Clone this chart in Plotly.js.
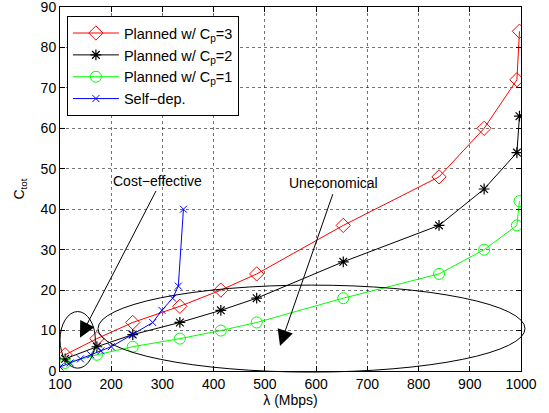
<!DOCTYPE html>
<html>
<head>
<meta charset="utf-8">
<script src="https://cdn.plot.ly/plotly-3.0.1.min.js"></script>
<style>html,body{margin:0;padding:0;background:#fff;}#chart{width:549px;height:413px;}</style>
</head>
<body>
<div id="chart"></div>
<script>
// Data
const lambdaPlanned = [110, 172, 242, 334, 414, 484, 653, 840, 928, 992, 997];
const costCp3 = [4, 8, 12, 16, 20, 24, 36, 48, 60, 72, 84];
const costCp2 = [3, 6, 9, 12, 15, 18, 27, 36, 45, 54, 63];
const costCp1 = [2, 4, 6, 8, 10, 12, 18, 24, 30, 36, 42];
const lambdaSelf = [100, 120, 140, 160, 180, 200, 241, 281, 299, 320, 331, 341];
const costSelf = [1, 2, 3, 4, 5, 6, 9, 12, 15, 18, 21, 40];
const seriesNames = ['Planned w/ C<sub>p</sub>=3', 'Planned w/ C<sub>p</sub>=2', 'Planned w/ C<sub>p</sub>=1', 'Self\u2212dep.'];
const xTicks = [100, 200, 300, 400, 500, 600, 700, 800, 900, 1000];
const yTicks = [0, 10, 20, 30, 40, 50, 60, 70, 80, 90];

const FONT = 'Liberation Sans, Arial, Helvetica, sans-serif';

const traces = [
  {x: lambdaPlanned, y: costCp3, name: seriesNames[0], mode: 'lines+markers',
   line: {color: '#ff0000', width: 1},
   marker: {symbol: 'diamond-open', size: 11, color: '#ff0000', line: {width: 1}}},
  {x: lambdaPlanned, y: costCp2, name: seriesNames[1], mode: 'lines+markers',
   line: {color: '#000000', width: 1},
   marker: {symbol: 'asterisk-open', size: 9, color: '#000000', line: {width: 1.2, color: '#000000'}}},
  {x: lambdaPlanned, y: costCp1, name: seriesNames[2], mode: 'lines+markers',
   line: {color: '#00ff00', width: 1},
   marker: {symbol: 'circle-open', size: 11, color: '#00ff00', line: {width: 1}}},
  {x: lambdaSelf, y: costSelf, name: seriesNames[3], mode: 'lines+markers',
   line: {color: '#0000ff', width: 1},
   marker: {symbol: 'x-thin-open', size: 7, color: '#0000ff', line: {width: 1, color: '#0000ff'}}}
];

const axisCommon = {
  showline: true, linecolor: '#000', linewidth: 1, mirror: 'ticks',
  ticks: 'inside', ticklen: 5, tickcolor: '#000', tickwidth: 1,
  showgrid: true, gridcolor: 'rgba(0,0,0,0.55)', griddash: 'dot', gridwidth: 1,
  zeroline: false, ticklabeloverflow: 'allow',
  tickfont: {family: FONT, size: 14, color: '#000'}
};

const layout = {
  width: 549, height: 413,
  margin: {l: 60, r: 28, t: 7, b: 42},
  paper_bgcolor: '#fff', plot_bgcolor: '#fff',
  font: {family: FONT, size: 14, color: '#000'},
  xaxis: Object.assign({}, axisCommon, {
    range: [100, 1000], tickvals: xTicks, ticktext: xTicks.map(String),
    title: {text: '\u03bb (Mbps)', font: {family: FONT, size: 14}, standoff: 3}
  }),
  yaxis: Object.assign({}, axisCommon, {
    range: [0, 90], tickvals: yTicks, ticktext: yTicks.map(String),
    title: {text: 'C<sub>tot</sub>', font: {family: FONT, size: 14}, standoff: 12}
  }),
  showlegend: true,
  legend: {
    x: 0.015, y: 0.975, xanchor: 'left', yanchor: 'top',
    bgcolor: '#fff', bordercolor: '#000', borderwidth: 1,
    font: {family: FONT, size: 14.5, color: '#000'}, itemwidth: 46,
    tracegroupgap: 0
  },
  shapes: [
    {type: 'circle', xref: 'x', yref: 'y', x0: 100, x1: 169, y0: 0.7, y1: 14.7,
     line: {color: '#000', width: 1}},
    {type: 'circle', xref: 'paper', yref: 'paper', x0: 0.0824, x1: 1.0087, y0: -0.003, y1: 0.236,
     line: {color: '#000', width: 1}}
  ],
  annotations: [
    {x: 290, y: 47.1, xref: 'x', yref: 'y', text: 'Cost\u2212effective', showarrow: false,
     font: {family: FONT, size: 14, color: '#000'}},
    {x: 633, y: 46.4, xref: 'x', yref: 'y', text: 'Uneconomical', showarrow: false,
     font: {family: FONT, size: 14, color: '#000'}},
    {x: 139, y: 8.2, xref: 'x', yref: 'y', ax: 289, ay: 44.9, axref: 'x', ayref: 'y',
     text: '', showarrow: true, arrowhead: 2, arrowsize: 3.2, arrowwidth: 1, arrowcolor: '#000'},
    {x: 529.5, y: 6.2, xref: 'x', yref: 'y', ax: 633.6, ay: 44.1, axref: 'x', ayref: 'y',
     text: '', showarrow: true, arrowhead: 2, arrowsize: 3.2, arrowwidth: 1, arrowcolor: '#000'}
  ]
};

Plotly.newPlot('chart', traces, layout, {displayModeBar: false, staticPlot: true});
</script>
</body>
</html>
